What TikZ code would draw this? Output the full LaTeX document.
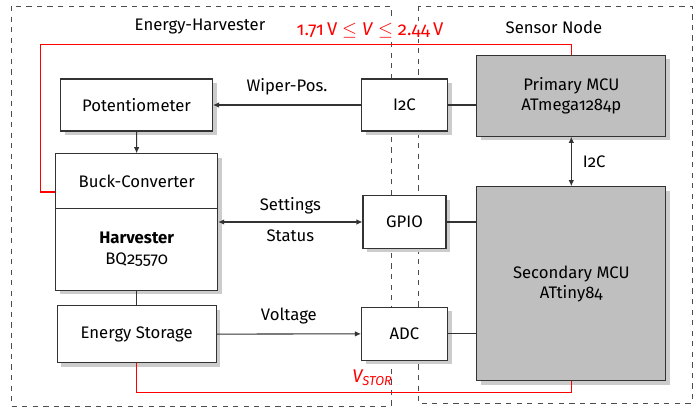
\documentclass[tikz,border=0pt]{standalone}
\usepackage{fontspec}
\setmainfont{Fira Sans}[Numbers=OldStyle]
\usetikzlibrary{calc, positioning, arrows.meta, shadows}

\begin{document}
\begin{tikzpicture}[font=\fontsize{9.5}{11.5}\selectfont,
      block/.style={draw=black!80, line width=0.6pt, fill=white, align=center,
        drop shadow={shadow xshift=0.08cm, shadow yshift=-0.08cm, fill=black!20, opacity=1}},
      mcu/.style  ={block, fill=black!25},
      zone/.style ={draw=black!70, dashed, line width=0.5pt, dash pattern=on 3pt off 3pt},
      supply/.style={draw=red, line width=0.6pt},
      wire/.style ={draw=black!80, line width=0.6pt},
      >={Latex[length=1.2mm, width=1.1mm]}
    ]
    \useasboundingbox (0,0) rectangle (13.86,-8.14);

    % Zones: harvester and sensor node
    \draw[zone] (0.22,-0.12) rectangle (7.82,-8.12);
    \draw[zone] (8.36,-0.12) rectangle (13.84,-8.06);
    \node (zh) at (4.00,-0.54) {Energy-Harvester};
    \node (zs) at (11.08,-0.54) {Sensor Node};

    % Harvester side
    \node[block, minimum width=3.04cm, minimum height=1.04cm] (poti) at (2.73,-2.10) {Potentiometer};
    \node[block, minimum width=3.24cm, minimum height=1.09cm] (buck) at (2.734,-3.62) {Buck-Converter};
    \node[block, minimum width=3.24cm, minimum height=1.634cm] (harv) at (2.734,-4.984) {\textbf{Harvester}\\BQ25570};
    \node[block, minimum width=3.18cm, minimum height=1.14cm] (stor) at (2.734,-6.684) {Energy Storage};

    % Interfaces
    \node[block, minimum width=1.72cm, minimum height=1.04cm] (i2c)  at (8.09,-2.10) {I2C};
    \node[block, minimum width=1.66cm, minimum height=1.05cm] (gpio) at (8.09,-4.44) {GPIO};
    \node[block, minimum width=1.72cm, minimum height=1.06cm] (adc)  at (8.09,-6.676) {ADC};

    % Sensor node MCUs
    \node[mcu, minimum width=3.774cm, minimum height=1.62cm]  (prim) at (11.426,-1.916) {Primary MCU\\ATmega1284p};
    \node[mcu, minimum width=3.774cm, minimum height=3.886cm] (sec)  at (11.426,-5.676) {Secondary MCU\\ATtiny84};

    % Signals
    \draw[wire, ->] (i2c) -- node[above, yshift=2pt] {Wiper-Pos.} (poti);
    \draw[wire] (i2c) -- (i2c -| prim.west);
    \draw[wire, <->] (prim) -- node[right, xshift=3pt] {I2C} (sec);
    \draw[wire, <->] (gpio -| harv.east) -- node[above, yshift=1pt] {Settings} node[below, yshift=-1pt] {Status} (gpio);
    \draw[wire] (gpio) -- (gpio -| sec.west);
    \draw[wire, ->] (stor) -- node[above, yshift=2pt] {Voltage} (adc);
    \draw[wire] (adc) -- (adc -| sec.west);
    \draw[wire, ->] (poti) -- (buck);
    \draw[wire] (harv) -- (stor);

    % Supply lines
    \coordinate (vtop) at (0.814,-0.894);
    \draw[supply] ([yshift=-0.22cm]buck.west) -| (vtop) -| (prim.north);
    \draw[supply] (stor.south) -- ++(0,-0.58) -| (sec.south);
    \node[red, fill=white, inner sep=1pt, font=\fontsize{10.5}{12}\selectfont] (vrange) at (7.40,-0.60)
      {1.71\,V\ $\leq$\ \textit{V}\ $\leq$\ 2.44\,V};
    \node[red, font=\fontsize{10.5}{12}\selectfont] (vstor) at (7.45,-7.56) {\textit{V\textsubscript{STOR}}};
  \end{tikzpicture}
\end{document}
